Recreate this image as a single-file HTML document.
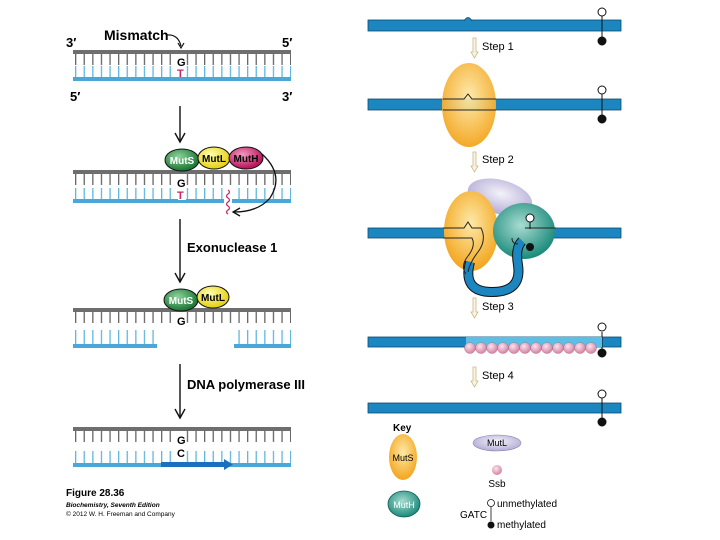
<!DOCTYPE html>
<html><head><meta charset="utf-8"><style>
html,body{margin:0;padding:0;background:#fff;width:720px;height:540px;overflow:hidden}
svg{display:block}
text{font-family:"Liberation Sans",sans-serif}
.b{font-weight:bold}
</style></head><body>
<svg width="720" height="540" viewBox="0 0 720 540" xmlns="http://www.w3.org/2000/svg">
<defs>
<pattern id="tg" x="75" y="0" width="8.6" height="20" patternUnits="userSpaceOnUse"><rect x="0" y="0" width="1.3" height="20" fill="#666"/></pattern>
<pattern id="tb" x="75" y="0" width="8.6" height="20" patternUnits="userSpaceOnUse"><rect x="0" y="0" width="1.3" height="20" fill="#5fb8e0"/></pattern>
<radialGradient id="or" cx="50%" cy="40%" r="60%"><stop offset="0" stop-color="#fde9a8"/><stop offset="1" stop-color="#f3a51d"/></radialGradient>
<radialGradient id="te" cx="45%" cy="40%" r="60%"><stop offset="0" stop-color="#a8dcd2"/><stop offset="1" stop-color="#1b8a7a"/></radialGradient>
<radialGradient id="la" cx="50%" cy="40%" r="60%"><stop offset="0" stop-color="#f4f2fa"/><stop offset="1" stop-color="#b3abd6"/></radialGradient>
<radialGradient id="pk" cx="40%" cy="35%" r="60%"><stop offset="0" stop-color="#fbe3ec"/><stop offset="1" stop-color="#d68aa8"/></radialGradient>
<radialGradient id="gs" cx="40%" cy="35%" r="60%"><stop offset="0" stop-color="#8fd19a"/><stop offset="1" stop-color="#1f7a3a"/></radialGradient>
<radialGradient id="ys" cx="40%" cy="35%" r="60%"><stop offset="0" stop-color="#ffffb0"/><stop offset="1" stop-color="#e6d21a"/></radialGradient>
<radialGradient id="ms" cx="40%" cy="35%" r="60%"><stop offset="0" stop-color="#f49ac0"/><stop offset="1" stop-color="#b8185e"/></radialGradient>
</defs>

<!-- LEFT PANEL -->
<text x="66" y="47" class="b" font-size="13">3′</text>
<text x="282" y="47" class="b" font-size="13">5′</text>
<text x="104" y="40" class="b" font-size="14">Mismatch</text>
<path d="M167,35 Q178,34 181,46" fill="none" stroke="#111" stroke-width="1.2"/>
<path d="M178,43 L181,48 L184,43" fill="none" stroke="#111" stroke-width="1.2"/>
<rect x="73" y="50" width="218" height="4" fill="#6e6e6e"/>
<rect x="73" y="54" width="218" height="11" fill="url(#tg)"/>
<rect x="73" y="66" width="218" height="12" fill="url(#tb)"/>
<rect x="73" y="77" width="218" height="4" fill="#4aa8d8"/>
<rect x="178" y="54" width="8" height="23" fill="#fff"/>
<text x="177" y="66" class="b" font-size="11">G</text>
<text x="177" y="77" class="b" font-size="11" fill="#c4286a">T</text>
<text x="70" y="101" class="b" font-size="13">5′</text>
<text x="282" y="101" class="b" font-size="13">3′</text>
<g fill="none" stroke="#111" stroke-width="1.4">
<line x1="180" y1="106" x2="180" y2="142"/><path d="M175,133 L180,142 L185,133"/>
<line x1="180" y1="219" x2="180" y2="282"/><path d="M175,273 L180,282 L185,273"/>
<line x1="180" y1="364" x2="180" y2="418"/><path d="M175,409 L180,418 L185,409"/>
</g>

<!-- duplex 2 -->
<rect x="73" y="170" width="218" height="4" fill="#6e6e6e"/>
<rect x="73" y="174" width="218" height="11" fill="url(#tg)"/>
<rect x="73" y="188" width="218" height="12" fill="url(#tb)"/>
<rect x="73" y="199" width="218" height="4" fill="#4aa8d8"/>
<rect x="178" y="174" width="8" height="26" fill="#fff"/>
<rect x="224" y="186" width="8" height="20" fill="#fff"/>
<text x="177" y="187" class="b" font-size="11">G</text>
<text x="177" y="199" class="b" font-size="11" fill="#c4286a">T</text>
<path d="M228,190 q3,2 0,4 q-3,2 0,4 q3,2 0,4 q-3,2 0,4 q3,2 0,4 q-3,2 0,4" fill="none" stroke="#c4286a" stroke-width="1.3"/>
<ellipse cx="182" cy="160" rx="17" ry="11" fill="url(#gs)" stroke="#111" stroke-width="1"/>
<text x="182" y="164" class="b" font-size="10" text-anchor="middle" fill="#fff">MutS</text>
<ellipse cx="214" cy="158" rx="16" ry="11" fill="url(#ys)" stroke="#111" stroke-width="1"/>
<text x="214" y="162" class="b" font-size="10" text-anchor="middle">MutL</text>
<ellipse cx="246" cy="158" rx="17" ry="11" fill="url(#ms)" stroke="#111" stroke-width="1"/>
<text x="246" y="162" class="b" font-size="10" text-anchor="middle">MutH</text>
<path d="M262,154 Q285,175 270,198 Q258,212 234,212" fill="none" stroke="#111" stroke-width="1.3"/>
<path d="M240,208 L233,212 L240,216" fill="none" stroke="#111" stroke-width="1.3"/>
<text x="187" y="252" class="b" font-size="13">Exonuclease 1</text>

<!-- duplex 3 -->
<rect x="73" y="308" width="218" height="4" fill="#6e6e6e"/>
<rect x="73" y="312" width="218" height="11" fill="url(#tg)"/>
<rect x="73" y="330" width="84" height="16" fill="url(#tb)"/>
<rect x="234" y="330" width="57" height="16" fill="url(#tb)"/>
<rect x="73" y="344" width="84" height="4" fill="#4aa8d8"/>
<rect x="234" y="344" width="57" height="4" fill="#4aa8d8"/>
<rect x="178" y="312" width="8" height="12" fill="#fff"/>
<text x="177" y="325" class="b" font-size="11">G</text>
<ellipse cx="181" cy="300" rx="17" ry="11" fill="url(#gs)" stroke="#111" stroke-width="1"/>
<text x="181" y="304" class="b" font-size="10" text-anchor="middle" fill="#fff">MutS</text>
<ellipse cx="213" cy="297" rx="16" ry="11" fill="url(#ys)" stroke="#111" stroke-width="1"/>
<text x="213" y="301" class="b" font-size="10" text-anchor="middle">MutL</text>
<text x="187" y="389" class="b" font-size="13">DNA polymerase III</text>

<!-- duplex 4 -->
<rect x="73" y="427" width="218" height="4" fill="#6e6e6e"/>
<rect x="73" y="431" width="218" height="11" fill="url(#tg)"/>
<rect x="73" y="451" width="218" height="13" fill="url(#tb)"/>
<rect x="73" y="463" width="218" height="4" fill="#4aa8d8"/>
<rect x="178" y="431" width="8" height="32" fill="#fff"/>
<text x="177" y="444" class="b" font-size="11">G</text>
<text x="177" y="457" class="b" font-size="11">C</text>
<rect x="161" y="462" width="65" height="5" fill="#1a6fc0"/>
<path d="M224,459 L233,464.5 L224,470 Z" fill="#1a6fc0"/>
<text x="66" y="496" class="b" font-size="10">Figure 28.36</text>
<text x="66" y="507" font-size="6.5" font-style="italic" font-weight="bold">Biochemistry, Seventh Edition</text>
<text x="66" y="516" font-size="6.5">© 2012 W. H. Freeman and Company</text>

<!-- RIGHT PANEL -->
<g stroke="#0c4a70" stroke-width="0.8" fill="#1b86c0">
<rect x="368" y="20" width="253" height="11"/>
<rect x="368" y="99" width="253" height="11"/>
<rect x="368" y="228" width="253" height="10"/>
<rect x="368" y="337" width="253" height="10"/>
<rect x="368" y="403" width="253" height="10"/>
</g>
<path d="M464,21 Q468,14 472,21" fill="#1b86c0" stroke="#0c4a70" stroke-width="0.8"/>
<g stroke="#111" stroke-width="1" fill="#fff">
<line x1="602" y1="16" x2="602" y2="40"/><circle cx="602" cy="12" r="4"/><circle cx="602" cy="41" r="4" fill="#111"/>
<line x1="602" y1="94" x2="602" y2="118"/><circle cx="602" cy="90" r="4"/><circle cx="602" cy="119" r="4" fill="#111"/>
<line x1="602" y1="332" x2="602" y2="350"/><circle cx="602" cy="327" r="4"/><circle cx="602" cy="353" r="4" fill="#111"/>
<line x1="602" y1="398" x2="602" y2="420"/><circle cx="602" cy="394" r="4"/><circle cx="602" cy="422" r="4" fill="#111"/>
</g>
<g fill="#fbf4e0" stroke="#c9b88a" stroke-width="0.8">
<path d="M473,38 h3 v14 h2 l-3.5,6 l-3.5,-6 h2 z"/>
<path d="M473,152 h3 v14 h2 l-3.5,6 l-3.5,-6 h2 z"/>
<path d="M473,298 h3 v14 h2 l-3.5,6 l-3.5,-6 h2 z"/>
<path d="M473,367 h3 v14 h2 l-3.5,6 l-3.5,-6 h2 z"/>
</g>
<text x="482" y="50" font-size="11">Step 1</text>
<text x="482" y="163" font-size="11">Step 2</text>
<text x="482" y="310" font-size="11">Step 3</text>
<text x="482" y="379" font-size="11">Step 4</text>

<!-- step 1 MutS -->
<ellipse cx="469" cy="105" rx="27" ry="42" fill="url(#or)" opacity="0.95"/>
<path d="M443,99 H464 L468,94 L472,99 H496 M443,110 H496" fill="none" stroke="#222" stroke-width="1"/>

<!-- step 2 complex -->
<ellipse cx="500" cy="197" rx="33" ry="17" fill="url(#la)" transform="rotate(15 500 197)"/>
<ellipse cx="471" cy="231" rx="27" ry="40" fill="url(#or)"/>
<ellipse cx="524" cy="231" rx="31" ry="28" fill="url(#te)"/>
<path d="M470,262 Q462,292 492,292 Q522,292 518,265 Q515,248 522,241" fill="none" stroke="#111" stroke-width="10"/>
<path d="M470,262 Q462,292 492,292 Q522,292 518,265 Q515,248 522,241" fill="none" stroke="#1b86c0" stroke-width="8"/>
<rect x="440" y="228.5" width="116" height="9" fill="none"/>
<path d="M443,228 H464 L468,222 L472,228 H481 Q487,240 478,252 Q470,262 468,272" fill="none" stroke="#222" stroke-width="1"/>
<path d="M443,238 H472 Q476,246 468,256 Q460,266 466,274" fill="none" stroke="#222" stroke-width="1"/>
<path d="M525,228 H556 M512,238 Q512,244 518,244" fill="none" stroke="#222" stroke-width="1"/>
<circle cx="530" cy="218" r="4" fill="#fff" stroke="#111"/>
<line x1="530" y1="222" x2="530" y2="229" stroke="#111"/>
<circle cx="530" cy="247" r="4" fill="#111"/>

<!-- step 3 ssb -->
<rect x="466" y="337" width="136" height="10" fill="#5bc0e8"/>
<g fill="url(#pk)" stroke="#b07090" stroke-width="0.5">
<circle cx="470" cy="348" r="5.5"/><circle cx="481" cy="348" r="5.5"/><circle cx="492" cy="348" r="5.5"/><circle cx="503" cy="348" r="5.5"/><circle cx="514" cy="348" r="5.5"/><circle cx="525" cy="348" r="5.5"/><circle cx="536" cy="348" r="5.5"/><circle cx="547" cy="348" r="5.5"/><circle cx="558" cy="348" r="5.5"/><circle cx="569" cy="348" r="5.5"/><circle cx="580" cy="348" r="5.5"/><circle cx="591" cy="348" r="5.5"/>
</g>

<!-- key -->
<text x="393" y="431" font-size="10" font-weight="bold">Key</text>
<ellipse cx="403" cy="457" rx="14" ry="23" fill="url(#or)"/>
<text x="403" y="461" font-size="9" text-anchor="middle">MutS</text>
<ellipse cx="404" cy="504" rx="16" ry="13" fill="url(#te)" stroke="#0d5e52" stroke-width="0.8"/>
<text x="404" y="508" font-size="9" text-anchor="middle" fill="#fff">MutH</text>
<ellipse cx="497" cy="443" rx="24" ry="8" fill="url(#la)" stroke="#8a82b8" stroke-width="0.6"/>
<text x="497" y="446" font-size="9" text-anchor="middle">MutL</text>
<circle cx="497" cy="470" r="5" fill="url(#pk)"/>
<text x="497" y="487" font-size="10" text-anchor="middle">Ssb</text>
<circle cx="491" cy="503" r="3.5" fill="#fff" stroke="#111" stroke-width="0.8"/>
<line x1="491" y1="507" x2="491" y2="521" stroke="#111" stroke-width="0.8"/>
<circle cx="491" cy="525" r="3.5" fill="#111"/>
<text x="497" y="507" font-size="10">unmethylated</text>
<text x="460" y="518" font-size="10">GATC</text>
<text x="497" y="528" font-size="10">methylated</text>
</svg>
</body></html>
